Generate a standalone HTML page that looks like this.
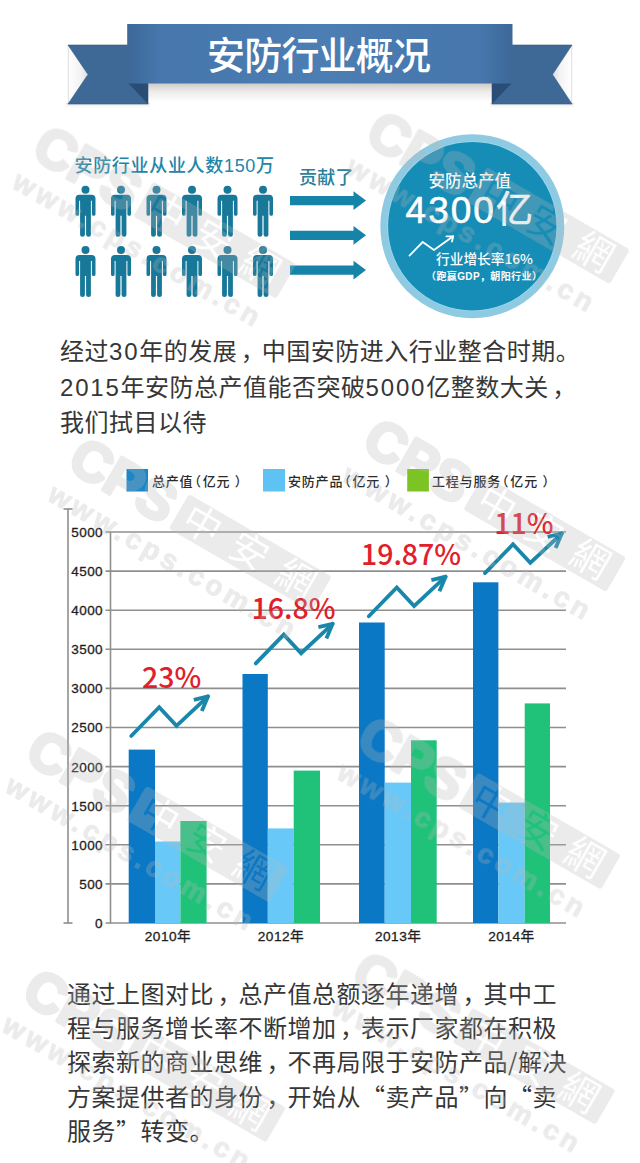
<!DOCTYPE html>
<html lang="zh-CN">
<head>
<meta charset="utf-8">
<title>安防行业概况</title>
<style>
html,body{margin:0;padding:0;background:#fff;}
body{width:640px;height:1163px;position:relative;overflow:hidden;font-family:"Liberation Sans","Noto Sans CJK SC",sans-serif;}
svg.g{position:absolute;left:0;top:0;}
.t{position:absolute;white-space:nowrap;line-height:1;}
.d{letter-spacing:1.8px;}
.c{font-family:"Noto Sans CJK TC",sans-serif;position:relative;left:3.5px;}
.c0{font-family:"Noto Sans CJK TC",sans-serif;}
.q{font-family:"Noto Sans CJK SC",sans-serif;}
.p{position:absolute;white-space:nowrap;color:#363636;font-size:24px;line-height:24px;height:24px;letter-spacing:0.5px;}
.p span{line-height:24px;}
</style>
</head>
<body>
<svg class="g" width="640" height="1163" viewBox="0 0 640 1163">
  <defs>
    <linearGradient id="band" x1="0" y1="0" x2="1" y2="0">
      <stop offset="0" stop-color="#3d6898"/>
      <stop offset="0.08" stop-color="#4676ab"/>
      <stop offset="0.5" stop-color="#4c7eb3"/>
      <stop offset="0.92" stop-color="#4676ab"/>
      <stop offset="1" stop-color="#3d6898"/>
    </linearGradient>
    <linearGradient id="shg" x1="0" y1="0" x2="0" y2="1">
      <stop offset="0" stop-color="#6b5d50" stop-opacity="0.33"/>
      <stop offset="0.45" stop-color="#6b5d50" stop-opacity="0.12"/>
      <stop offset="1" stop-color="#6b5d50" stop-opacity="0"/>
    </linearGradient>
    <linearGradient id="notchL" x1="0" y1="0" x2="1" y2="0">
      <stop offset="0" stop-color="#fff"/>
      <stop offset="0.6" stop-color="#f3f3f3"/>
      <stop offset="1" stop-color="#d8dde3"/>
    </linearGradient>
    <linearGradient id="notchR" x1="1" y1="0" x2="0" y2="0">
      <stop offset="0" stop-color="#fff"/>
      <stop offset="0.6" stop-color="#f3f3f3"/>
      <stop offset="1" stop-color="#d8dde3"/>
    </linearGradient>

    <g id="man">
      <circle cx="0" cy="0" r="4"/>
      <path d="M-6,5 H6 Q10,5 10,9 V24.5 Q10,26 8.2,26 Q6.4,26 6.4,24.5 V11 H5.4 V45 Q5.4,47 3.2,47 Q0.6,47 0.6,45 V26 H-0.6 V45 Q-0.6,47 -3.2,47 Q-5.4,47 -5.4,45 V11 H-6.4 V24.5 Q-6.4,26 -8.2,26 Q-10,26 -10,24.5 V9 Q-10,5 -6,5 Z"/>
    </g>
    <g id="arr">
      <path d="M0,0 H63.5 V-4.7 L76,4.6 L63.5,14 V9.3 H0 Z"/>
    </g>


    <mask id="wmk" maskUnits="userSpaceOnUse" x="-60" y="-60" width="400" height="160">
      <rect x="-60" y="-60" width="400" height="160" fill="#fff"/>
      <text x="108" y="13" font-family="'Noto Sans CJK TC',sans-serif" font-weight="400" font-size="38" fill="#000" textLength="146" lengthAdjust="spacing">中安網</text>
    </mask>
    <g id="wm">
      <text x="-20" y="19.5" font-family="'Liberation Sans',sans-serif" font-weight="700" font-size="55" stroke="#b8b8b8" stroke-width="3.5" stroke-linejoin="round">CPS</text>
      <rect x="100" y="-20" width="165" height="40" rx="3" mask="url(#wmk)"/>
      <text x="-21" y="56" font-family="'Liberation Sans',sans-serif" font-weight="700" font-size="28" stroke="#b8b8b8" stroke-width="1" textLength="280" lengthAdjust="spacing">www.cps.com.cn</text>
    </g>
  </defs>

  <!-- ribbon -->
  <rect x="148" y="83" width="344" height="19" fill="url(#shg)"/>
  <rect x="66" y="103" width="84" height="5" fill="url(#shg)" opacity="0.6"/>
  <rect x="490" y="103" width="84" height="5" fill="url(#shg)" opacity="0.6"/>
  <polygon points="68.5,45 88,74.5 68.5,104" fill="url(#notchL)"/>
  <polygon points="571.5,45 552.5,74.5 571.5,104" fill="url(#notchR)"/>
  <line x1="68.3" y1="45" x2="68.3" y2="104" stroke="#d4d4d4" stroke-width="0.8"/>
  <line x1="571.7" y1="45" x2="571.7" y2="104" stroke="#d4d4d4" stroke-width="0.8"/>
  <polygon points="68,45 148,45 148,104 68,104 88,74.5" fill="#3e6996" stroke="#33597f" stroke-width="0.6"/>
  <polygon points="572,45 492,45 492,104 572,104 552.5,74.5" fill="#3e6996" stroke="#33597f" stroke-width="0.6"/>
  <polygon points="128,83 148,83 148,104" fill="#2a4d78"/>
  <polygon points="512,83 492,83 492,104" fill="#2a4d78"/>
  <rect x="127.2" y="24" width="385.3" height="59.5" fill="url(#band)"/>

  <!-- people -->
  <g fill="#17789a">
    <use href="#man" x="85.5" y="189.8"/>
    <use href="#man" x="121" y="189.8"/>
    <use href="#man" x="156.5" y="189.8"/>
    <use href="#man" x="192" y="189.8"/>
    <use href="#man" x="227.5" y="189.8"/>
    <use href="#man" x="263" y="189.8"/>
    <use href="#man" x="85.5" y="249.9"/>
    <use href="#man" x="121" y="249.9"/>
    <use href="#man" x="156.5" y="249.9"/>
    <use href="#man" x="192" y="249.9"/>
    <use href="#man" x="227.5" y="249.9"/>
    <use href="#man" x="263" y="249.9"/>
  </g>

  <!-- arrows -->
  <g fill="#1683a9">
    <use href="#arr" x="290" y="196"/>
    <use href="#arr" x="290" y="230.7"/>
    <use href="#arr" x="290" y="265.4"/>
  </g>

  <!-- circle -->
  <circle cx="472.3" cy="226.2" r="92" fill="#8ecbe2"/>
  <circle cx="472.3" cy="226.2" r="85" fill="#9fd8ef"/>
  <circle cx="472.3" cy="226.2" r="84.2" fill="#158db6"/>
  <g fill="none" stroke="#fff" stroke-width="1.8" stroke-linecap="round" stroke-linejoin="round">
    <polyline points="409.5,255.6 422.7,242 434,250 453.2,236.3"/>
    <polyline points="446.4,236.3 453.2,236.3 452,241.5"/>
  </g>
  <!-- chart -->
<g stroke="#8f8f8f" stroke-width="1.6"><line x1="105.5" y1="923.0" x2="566" y2="923.0"/><line x1="105.5" y1="883.9" x2="566" y2="883.9"/><line x1="105.5" y1="844.8" x2="566" y2="844.8"/><line x1="105.5" y1="805.7" x2="566" y2="805.7"/><line x1="105.5" y1="766.6" x2="566" y2="766.6"/><line x1="105.5" y1="727.5" x2="566" y2="727.5"/><line x1="105.5" y1="688.4" x2="566" y2="688.4"/><line x1="105.5" y1="649.3" x2="566" y2="649.3"/><line x1="105.5" y1="610.2" x2="566" y2="610.2"/><line x1="105.5" y1="571.1" x2="566" y2="571.1"/><line x1="105.5" y1="532.0" x2="566" y2="532.0"/><line x1="110.5" y1="532" x2="110.5" y2="923.8"/><line x1="68" y1="508.5" x2="68" y2="923.5"/><line x1="63.5" y1="509" x2="72.5" y2="509"/><line x1="63.5" y1="923" x2="72.5" y2="923"/></g>
<rect x="128.7" y="749.6" width="26.3" height="173.4" fill="#0a78c5"/><rect x="155" y="841.5" width="25.4" height="81.5" fill="#68c9f8"/><rect x="180.4" y="821" width="26.2" height="102.0" fill="#20c27a"/><rect x="242.5" y="674" width="25.3" height="249.0" fill="#0a78c5"/><rect x="267.8" y="828.4" width="25.9" height="94.6" fill="#68c9f8"/><rect x="293.7" y="770.6" width="26.3" height="152.4" fill="#20c27a"/><rect x="359" y="622.5" width="25.7" height="300.5" fill="#0a78c5"/><rect x="384.7" y="782.6" width="26.3" height="140.4" fill="#68c9f8"/><rect x="411" y="740.3" width="25.7" height="182.7" fill="#20c27a"/><rect x="473" y="582.3" width="25.4" height="340.7" fill="#0a78c5"/><rect x="498.4" y="802.6" width="26.3" height="120.4" fill="#68c9f8"/><rect x="524.7" y="703.4" width="25.3" height="219.6" fill="#20c27a"/>
<g font-size="13.5" fill="#1e1e1e" stroke="#1e1e1e" stroke-width="0.3" text-anchor="end" letter-spacing="0.4"><text x="103" y="927.9">0</text><text x="103" y="888.8">500</text><text x="103" y="849.7">1000</text><text x="103" y="810.6">1500</text><text x="103" y="771.5">2000</text><text x="103" y="732.4">2500</text><text x="103" y="693.3">3000</text><text x="103" y="654.2">3500</text><text x="103" y="615.1">4000</text><text x="103" y="576.0">4500</text><text x="103" y="536.9">5000</text></g>

  <g fill="none" stroke="#1987aa" stroke-width="3.8">
    <g transform="translate(131.2,736)"><polyline points="0,0 28,-28.8 45.3,-10.2 76.8,-39.6" stroke-linecap="round"/><polyline points="-14.2,3.4 0,0 -6.2,14.6" stroke-linejoin="round" transform="translate(76.8,-39.6)"/></g>
    <g transform="translate(255.8,663.4)"><polyline points="0,0 28,-28.8 45.3,-10.2 76.8,-39.6" stroke-linecap="round"/><polyline points="-14.2,3.4 0,0 -6.2,14.6" stroke-linejoin="round" transform="translate(76.8,-39.6)"/></g>
    <g transform="translate(368.8,616.3)"><polyline points="0,0 28,-28.8 45.3,-10.2 76.8,-39.6" stroke-linecap="round"/><polyline points="-14.2,3.4 0,0 -6.2,14.6" stroke-linejoin="round" transform="translate(76.8,-39.6)"/></g>
    <g transform="translate(485,573.1)"><polyline points="0,0 28,-28.8 45.3,-10.2 76.8,-39.6" stroke-linecap="round"/><polyline points="-14.2,3.4 0,0 -6.2,14.6" stroke-linejoin="round" transform="translate(76.8,-39.6)"/></g>
  </g>
  <g font-family="'Noto Sans CJK SC',sans-serif" font-size="28.5" font-weight="500" fill="#e0202a">
    <text x="142" y="688.3">23%</text>
    <text x="251.5" y="619.2">16.8%</text>
    <text x="360.9" y="565">19.87%</text>
    <text x="494.2" y="533.5">11%</text>
  </g>
  <g font-size="13.7" fill="#1e1e1e" stroke="#1e1e1e" stroke-width="0.3" text-anchor="middle" letter-spacing="0.5">
    <text x="168" y="941.3">2010年</text>
    <text x="281" y="941.3">2012年</text>
    <text x="398.2" y="941.3">2013年</text>
    <text x="511.5" y="941.3">2014年</text>
  </g>
  <rect x="126.5" y="469" width="21.5" height="22.5" fill="#1c86c6"/>
  <rect x="263" y="469" width="22" height="22.5" fill="#5ec2f2"/>
  <rect x="407.2" y="469" width="21.7" height="22.5" fill="#7cc424"/>
  <g font-size="13" fill="#2a2a2a" letter-spacing="0.8" font-weight="500">
    <text x="152" y="486">总产值<tspan dx="-5.5">（</tspan><tspan dx="1">亿元</tspan><tspan dx="4.5">）</tspan></text>
    <text x="288" y="486">安防产品<tspan dx="-5.5">（</tspan><tspan dx="1">亿元</tspan><tspan dx="4.5">）</tspan></text>
    <text x="432" y="486">工程与服务<tspan dx="-5.5">（</tspan><tspan dx="1">亿元</tspan><tspan dx="4.5">）</tspan></text>
  </g>
</svg>

<div class="t" style="left:207px;top:37px;font-size:38px;letter-spacing:-0.8px;color:#fff;font-weight:500;">安防行业概况</div>

<div class="t" style="left:74.5px;top:156.5px;font-size:18px;letter-spacing:0.68px;color:#2286a8;font-weight:500;">安防行业从业人数150万</div>
<div class="t" style="left:299px;top:168.5px;font-size:18px;letter-spacing:0.3px;color:#2a7f9a;font-weight:500;">贡献了</div>

<div class="t" style="left:428.5px;top:173.3px;font-size:16.5px;color:#fff;font-weight:500;">安防总产值</div>
<div class="t" style="left:405.6px;top:191.6px;font-size:37px;color:#fff;letter-spacing:2px;-webkit-text-stroke:0.6px #fff;">4300<span style="letter-spacing:0">亿</span></div>
<div class="t" style="left:436px;top:252px;font-size:13.7px;color:#fff;font-weight:500;font-family:'Noto Sans CJK SC',sans-serif;">行业增长率16%</div>
<div class="t" style="left:426px;top:270.5px;font-size:10px;letter-spacing:0.38px;color:#fff;font-weight:bold;"><span class="c0">（</span>跑赢GDP<span class="c0">，</span>朝阳行业<span class="c0">）</span></div>

<div class="p" style="left:60px;top:338.0px;">经过<span class="d">30</span>年的发展<span class="c">，</span>中国安防进入行业整合时期。</div>
<div class="p" style="left:60px;top:373.6px;"><span class="d">2015</span>年安防总产值能否突破<span class="d">5000</span>亿整数大关<span class="c">，</span></div>
<div class="p" style="left:60px;top:410.5px;">我们拭目以待</div>

<div class="p" style="left:67px;top:981.0px;">通过上图对比<span class="c">，</span>总产值总额逐年递增<span class="c">，</span>其中工</div>
<div class="p" style="left:67px;top:1015.2px;">程与服务增长率不断增加<span class="c">，</span>表示厂家都在积极</div>
<div class="p" style="left:67px;top:1049.4px;">探索新的商业思维<span class="c">，</span>不再局限于安防产品<span class="q">/</span>解决</div>
<div class="p" style="left:67px;top:1083.6px;">方案提供者的身份<span class="c">，</span>开始从<span class="q">“</span>卖产品<span class="q">”</span>向<span class="q">“</span>卖</div>
<div class="p" style="left:67px;top:1117.8px;">服务<span class="q">”</span>转变。</div>

<svg class="g" width="640" height="1163" viewBox="0 0 640 1163" style="pointer-events:none">
  <g fill="#b8b8b8" opacity="0.28">
    <use href="#wm" transform="translate(56.7,149) rotate(30)"/>
    <use href="#wm" transform="translate(390.3,134.4) rotate(30)"/>
    <use href="#wm" transform="translate(92.2,461.4) rotate(30)"/>
    <use href="#wm" transform="translate(386.7,442.2) rotate(30)"/>
    <use href="#wm" transform="translate(49.8,753) rotate(30)"/>
    <use href="#wm" transform="translate(381.4,739.8) rotate(30)"/>
    <use href="#wm" transform="translate(46.5,992.5) rotate(30)"/>
    <use href="#wm" transform="translate(376,975) rotate(30)"/>
  </g>
</svg>
</body>
</html>
